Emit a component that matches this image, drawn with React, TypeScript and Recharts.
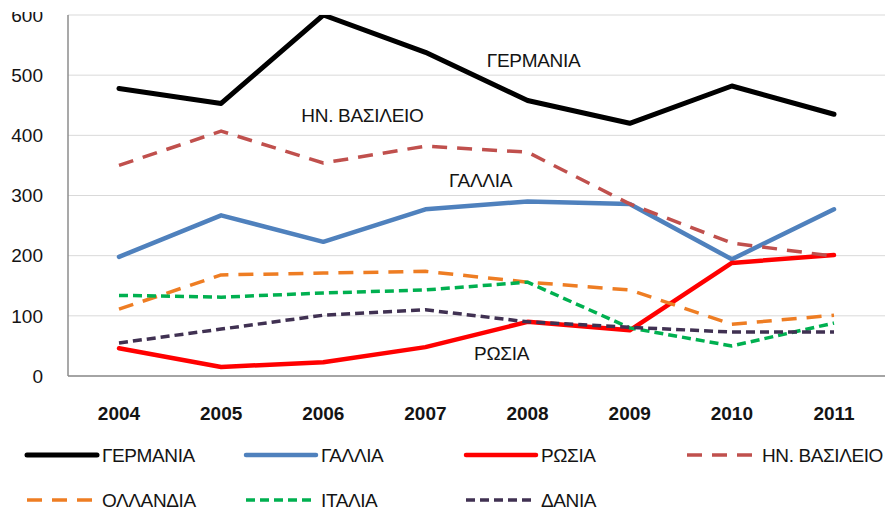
import React from 'react';
import { LineChart, Line, XAxis, YAxis, CartesianGrid, Legend, ReferenceDot } from 'recharts';

const years = ['2004', '2005', '2006', '2007', '2008', '2009', '2010', '2011'];
const germany = [478, 453, 600, 538, 458, 420, 482, 435];
const france = [198, 267, 223, 277, 290, 286, 194, 277];
const russia = [46, 15, 23, 48, 90, 76, 188, 201];
const uk = [350, 407, 354, 382, 372, 286, 221, 199];
const netherlands = [111, 168, 171, 174, 156, 143, 86, 101];
const italy = [134, 131, 138, 143, 156, 80, 50, 88];
const denmark = [55, 78, 101, 110, 90, 81, 73, 73];
const yTicks = [0, 100, 200, 300, 400, 500, 600];

const seriesNames = ['ΓΕΡΜΑΝΙΑ', 'ΓΑΛΛΙΑ', 'ΡΩΣΙΑ', 'ΗΝ. ΒΑΣΙΛΕΙΟ', 'ΟΛΛΑΝΔΙΑ', 'ΙΤΑΛΙΑ', 'ΔΑΝΙΑ'];
const seriesValues = [germany, france, russia, uk, netherlands, italy, denmark];

const annotationNames = ['ΓΕΡΜΑΝΙΑ', 'ΗΝ. ΒΑΣΙΛΕΙΟ', 'ΓΑΛΛΙΑ', 'ΡΩΣΙΑ'];
const annotationYears = ['2008', '2007', '2008', '2008'];
const annotationValues = [525, 433, 326, 38];

// styles (kept separate from data)
const seriesStyles = [
  { color: '#000000', width: 5, dash: undefined },
  { color: '#4F81BD', width: 4.5, dash: undefined },
  { color: '#FF0000', width: 4.5, dash: undefined },
  { color: '#C0504D', width: 3.5, dash: '15 10' },
  { color: '#EE7D23', width: 3.5, dash: '15 10' },
  { color: '#00B050', width: 3.5, dash: '9 5' },
  { color: '#403152', width: 3.5, dash: '9 5' },
];
const annotationDx = [6, -63, -47, -26];

const FONT = '"Liberation Sans", Arial, sans-serif';
const TEXT = '#141414';

const data = years.map((y, i) => {
  const row: Record<string, string | number> = { year: y };
  seriesNames.forEach((n, s) => {
    row[n] = seriesValues[s][i];
  });
  return row;
});

const renderLegend = () => {
  const colX = [27, 246, 466, 687];
  const rowY = [23, 68];
  return (
    <svg width={885} height={82} style={{ display: 'block' }}>
      {seriesNames.map((n, i) => {
        const st = seriesStyles[i];
        const x = colX[i % 4];
        const y = rowY[Math.floor(i / 4)];
        return (
          <g key={n}>
            <line
              x1={x}
              x2={x + 70}
              y1={y}
              y2={y}
              stroke={st.color}
              strokeWidth={st.width}
              strokeDasharray={st.dash}
              strokeLinecap={st.dash ? 'butt' : 'round'}
            />
            <text
              x={x + 75}
              y={y}
              dy="0.36em"
              fontFamily={FONT}
              fontSize={19}
              letterSpacing={-0.4}
              fill={TEXT}
            >
              {n}
            </text>
          </g>
        );
      })}
    </svg>
  );
};

const makeAnnotationShape = (label: string, dx: number) => (props: any) => {
  const { cx, cy } = props;
  return (
    <text
      x={cx + dx}
      y={cy}
      dy="0.36em"
      textAnchor="middle"
      fontFamily={FONT}
      fontSize={19}
      letterSpacing={-0.3}
      fill={TEXT}
    >
      {label}
    </text>
  );
};

export default function App() {
  return (
    <div style={{ position: 'absolute', left: 0, top: 12, width: 885, height: 502, overflow: 'hidden', background: '#fff' }}>
      <div style={{ marginTop: -12 }}>
        <LineChart
          width={885}
          height={514}
          data={data}
          margin={{ top: 15, right: 0, left: 0, bottom: 0 }}
          style={{ fontFamily: FONT }}
        >
          <CartesianGrid vertical={false} stroke="#D9D9D9" strokeWidth={1} />
          <XAxis
            dataKey="year"
            axisLine={{ stroke: '#8C8C8C', strokeWidth: 1.5 }}
            tickLine={false}
            tickSize={0}
            tickMargin={31}
            height={56}
            interval={0}
            padding={{ left: 51, right: 51 }}
            tick={{ fontSize: 19, fontWeight: 'bold', fill: TEXT, fontFamily: FONT }}
          />
          <YAxis
            domain={[0, 600]}
            ticks={yTicks}
            width={68}
            axisLine={{ stroke: '#8C8C8C', strokeWidth: 1.5 }}
            tickLine={false}
            tickSize={0}
            tickMargin={25}
            allowDataOverflow
            tick={{ fontSize: 19, fill: TEXT, fontFamily: FONT }}
          />
          <Legend
            verticalAlign="bottom"
            align="left"
            height={82}
            wrapperStyle={{ left: 0, width: 885, height: 82 }}
            content={renderLegend}
          />
          {seriesNames.map((n, i) => (
            <Line
              key={n}
              type="linear"
              dataKey={n}
              name={n}
              stroke={seriesStyles[i].color}
              strokeWidth={seriesStyles[i].width}
              strokeDasharray={seriesStyles[i].dash}
              strokeLinejoin="round"
              strokeLinecap={seriesStyles[i].dash ? 'butt' : 'round'}
              dot={false}
              activeDot={false}
              isAnimationActive={false}
            />
          ))}
          {annotationNames.map((n, i) => (
            <ReferenceDot
              key={n}
              x={annotationYears[i]}
              y={annotationValues[i]}
              r={0}
              ifOverflow="visible"
              shape={makeAnnotationShape(n, annotationDx[i])}
            />
          ))}
        </LineChart>
      </div>
    </div>
  );
}
